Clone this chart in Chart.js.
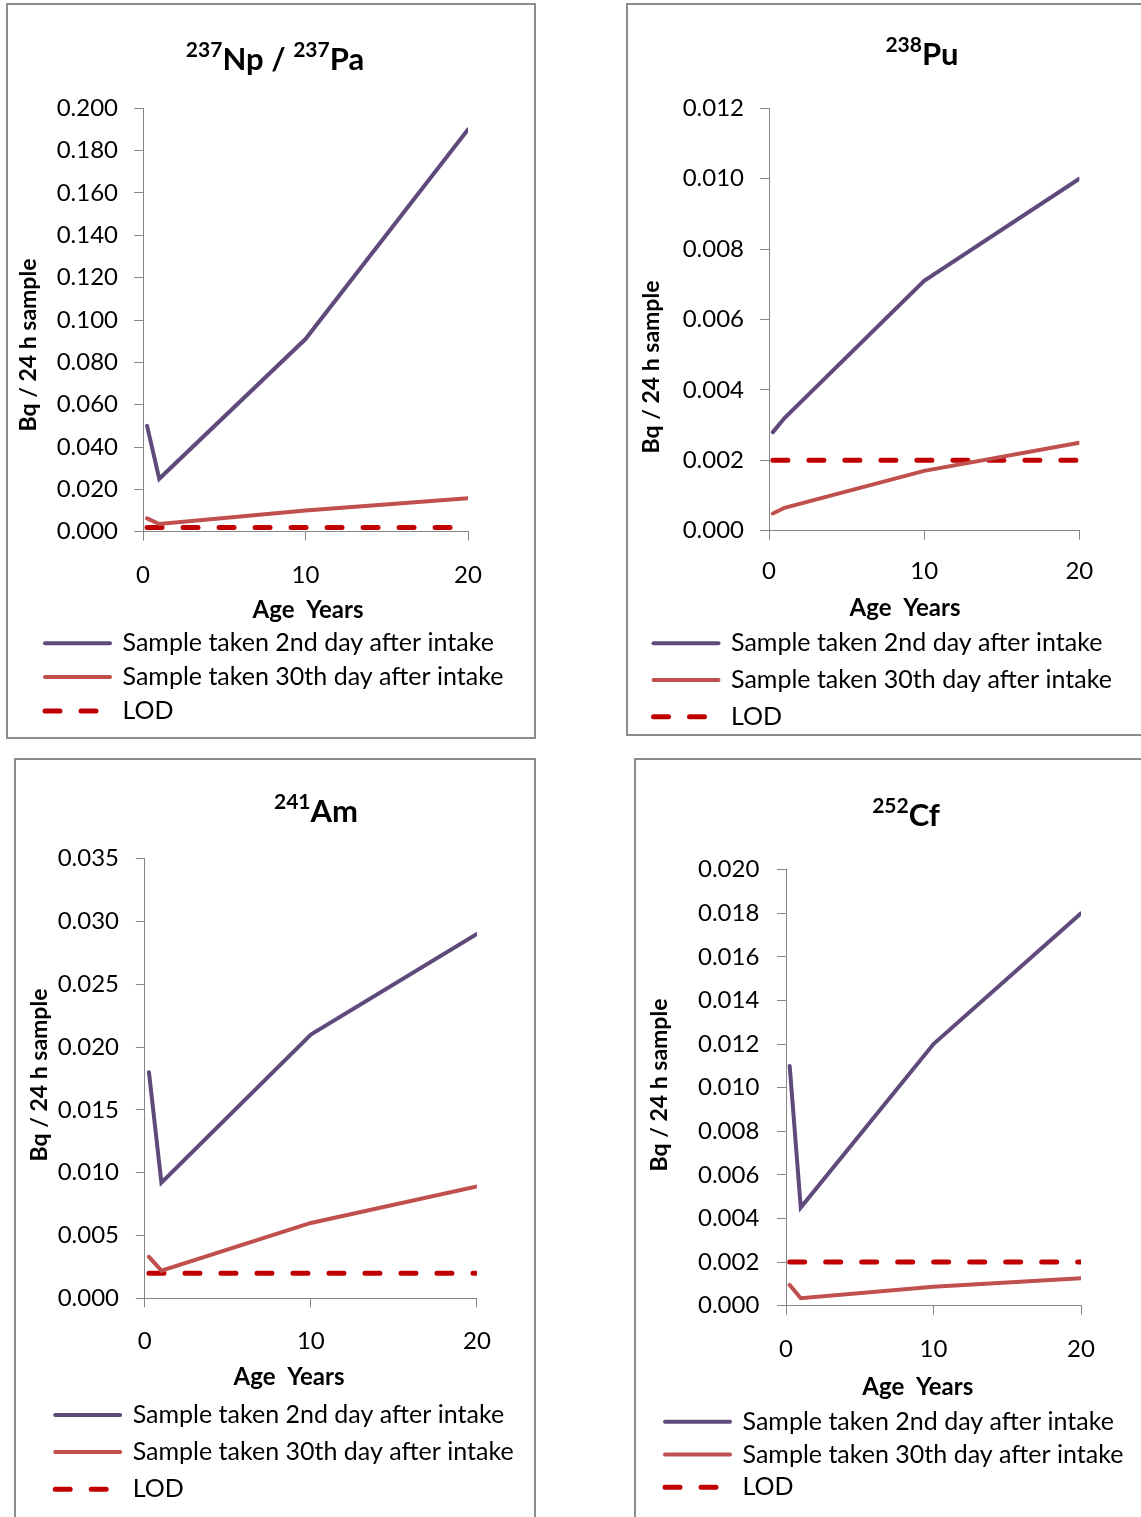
<!DOCTYPE html>
<html>
<head>
<meta charset="utf-8">
<title>Urine excretion by age</title>
<script src="https://cdn.jsdelivr.net/npm/chart.js@4.4.1/dist/chart.umd.min.js"></script>
<style>
  html, body { margin: 0; padding: 0; background: #fff; overflow: hidden; }
  body { width: 1141px; height: 1517px; position: relative; }
  .panel { position: absolute; border: 2px solid #8c8c8c; box-sizing: border-box; background: #fff; }
  .panel canvas { display: block; }
</style>
</head>
<body>
<div class="panel" style="left:6px;top:3px;width:530px;height:736px"><canvas id="c1" width="526" height="732"></canvas></div>
<div class="panel" style="left:626px;top:3px;width:530px;height:733px"><canvas id="c2" width="526" height="729"></canvas></div>
<div class="panel" style="left:14px;top:758px;width:522px;height:800px"><canvas id="c3" width="518" height="796"></canvas></div>
<div class="panel" style="left:634px;top:758px;width:530px;height:800px"><canvas id="c4" width="526" height="796"></canvas></div>
<script>
// ages at which the samples were modelled (years)
const ageYears = [0.25, 1, 10, 20];
const xTicks = [0, 10, 20];
const seriesNames = ['Sample taken 2nd day after intake', 'Sample taken 30th day after intake', 'LOD'];

// Bq / 24 h sample
const npDay2  = [0.050, 0.025, 0.091, 0.190];
const npDay30 = [0.0063, 0.0036, 0.010, 0.0158];
const npLod   = [0.002, 0.002, 0.002, 0.002];

const puDay2  = [0.0028, 0.0032, 0.0071, 0.0100];
const puDay30 = [0.00049, 0.00065, 0.0017, 0.0025];
const puLod   = [0.002, 0.002, 0.002, 0.002];

const amDay2  = [0.018, 0.0092, 0.021, 0.029];
const amDay30 = [0.0033, 0.0022, 0.006, 0.0089];
const amLod   = [0.002, 0.002, 0.002, 0.002];

const cfDay2  = [0.011, 0.0045, 0.012, 0.018];
const cfDay30 = [0.00095, 0.00034, 0.00087, 0.00126];
const cfLod   = [0.002, 0.002, 0.002, 0.002];

const yAxisMax  = [0.200, 0.012, 0.035, 0.020];
const yAxisStep = [0.020, 0.002, 0.005, 0.002];

// [text, isSuperscript]
const isotopeTitles = [
  [['237', true], ['Np / ', false], ['237', true], ['Pa', false]],
  [['238', true], ['Pu', false]],
  [['241', true], ['Am', false]],
  [['252', true], ['Cf', false]]
];
const yAxisTitle = 'Bq / 24 h sample';
const xAxisTitle = 'Age  Years';

const panelSeries = [
  [npDay2, npDay30, npLod],
  [puDay2, puDay30, puLod],
  [amDay2, amDay30, amLod],
  [cfDay2, cfDay30, cfLod]
];

// page-pixel layout of each panel (canvas origin, plot box, text anchors)
const frames = [
  { id: 'c1', ox: 8, oy: 5, plot: [143, 108.3, 468, 531.7], tickRight: 118, tickY: 575,
    title: [275, 70], yTitle: [29, 345], xTitle: [308, 610], legend: [45, 643.3, 33.8] },
  { id: 'c2', ox: 628, oy: 5, plot: [769, 108.3, 1079.3, 530.7], tickRight: 744, tickY: 571.7,
    title: [922, 65], yTitle: [652, 367], xTitle: [905, 608.3], legend: [653.5, 643.3, 36.7] },
  { id: 'c3', ox: 16, oy: 760, plot: [144.8, 858.7, 476.9, 1298.3], tickRight: 119, tickY: 1341.7,
    title: [316, 822], yTitle: [40, 1075], xTitle: [289, 1377.3], legend: [55.2, 1415, 37.1] },
  { id: 'c4', ox: 636, oy: 760, plot: [786, 869.7, 1081, 1305.7], tickRight: 759.3, tickY: 1349.3,
    title: [906, 826], yTitle: [660, 1085], xTitle: [917.8, 1387.3], legend: [665, 1421.7, 32.8] }
];

const FONT = 'Lato, "Open Sans", sans-serif';
const TICK_SIZE = 24;
const LEGEND_SIZE = 25;
const TICK_LEN = 9;
const AXIS_GREY = '#868686';
const colors = { day2: '#604A7B', day30: '#C0504D', lod: '#C00000' };

Chart.defaults.color = '#000';
Chart.defaults.font.family = FONT;

const panelText = {
  id: 'panelText',
  afterDraw(chart, args, o) {
    const ctx = chart.ctx;
    ctx.save();
    ctx.fillStyle = '#000';

    // isotope title with superscript mass numbers
    const mainFont = 'bold 31px ' + FONT;
    const supFont = 'bold 21px ' + FONT;
    let total = 0;
    o.title.forEach(p => {
      ctx.font = p[1] ? supFont : mainFont;
      total += ctx.measureText(p[0]).width;
    });
    let x = o.titleAt[0] - total / 2;
    ctx.textAlign = 'left';
    ctx.textBaseline = 'alphabetic';
    o.title.forEach(p => {
      ctx.font = p[1] ? supFont : mainFont;
      ctx.fillText(p[0], x, p[1] ? o.titleAt[1] - 13 : o.titleAt[1]);
      x += ctx.measureText(p[0]).width;
    });

    // axis titles
    ctx.font = 'bold 24px ' + FONT;
    ctx.textAlign = 'center';
    ctx.textBaseline = 'middle';
    ctx.fillText(xAxisTitle, o.xTitleAt[0], o.xTitleAt[1]);
    ctx.font = 'bold 23px ' + FONT;
    ctx.translate(o.yTitleAt[0], o.yTitleAt[1]);
    ctx.rotate(-Math.PI / 2);
    ctx.fillText(yAxisTitle, 0, 0);
    ctx.restore();
  }
};

function toPoints(values) {
  return values.map((v, i) => ({ x: ageYears[i], y: v }));
}

function legendLabels(chart) {
  return Chart.defaults.plugins.legend.labels.generateLabels(chart).map(item => {
    const ds = chart.data.datasets[item.datasetIndex];
    item.lineDash = ds.borderDash || [];
    item.lineWidth = ds.borderWidth;
    item.lineCap = 'round';
    item.strokeStyle = ds.borderColor;
    item.pointStyle = 'line';
    return item;
  });
}

function buildChart(i) {
  const f = frames[i];
  const canvas = document.getElementById(f.id);
  const W = canvas.width, H = canvas.height;
  const L = f.plot[0] - f.ox, T = f.plot[1] - f.oy, R = f.plot[2] - f.ox, B = f.plot[3] - f.oy;

  const gap = f.legend[2];
  const legendPad = gap - LEGEND_SIZE;
  const legendTop = f.legend[1] - f.oy - legendPad - LEGEND_SIZE / 2;
  const legendH = 3 * gap + 10;
  const padL = f.legend[0] - f.ox - legendPad;
  const padB = H - legendTop - legendH;
  const yWidth = L - padL;
  const xHeight = legendTop - B;
  const yTickPad = L - TICK_LEN - (f.tickRight - f.ox);
  const xTickPad = (f.tickY - f.oy) - B - TICK_LEN - TICK_SIZE * 1.2 / 2;

  const [day2, day30, lod] = panelSeries[i];

  new Chart(canvas, {
    type: 'line',
    data: {
      datasets: [
        { label: seriesNames[0], data: toPoints(day2), borderColor: colors.day2, backgroundColor: colors.day2,
          borderWidth: 4, borderCapStyle: 'round' },
        { label: seriesNames[1], data: toPoints(day30), borderColor: colors.day30, backgroundColor: colors.day30,
          borderWidth: 4, borderCapStyle: 'round' },
        { label: seriesNames[2], data: toPoints(lod), borderColor: colors.lod, backgroundColor: colors.lod,
          borderWidth: 5, borderDash: [15, 21], borderCapStyle: 'round' }
      ]
    },
    options: {
      responsive: false,
      animation: false,
      events: [],
      elements: { point: { radius: 0 }, line: { tension: 0 } },
      // right margin comes from the x scale so the legend keeps the full width
      layout: { padding: { left: padL, top: T, right: 0, bottom: padB } },
      scales: {
        x: {
          type: 'linear', min: 0, max: 20,
          afterBuildTicks: s => { s.ticks = xTicks.map(v => ({ value: v })); },
          afterFit: s => { s.height = xHeight; s.paddingRight = W - R; },
          grid: { drawOnChartArea: false, tickLength: TICK_LEN, color: AXIS_GREY },
          border: { color: AXIS_GREY },
          ticks: { padding: xTickPad, maxRotation: 0, font: { size: TICK_SIZE } }
        },
        y: {
          min: 0, max: yAxisMax[i],
          afterFit: s => { s.width = yWidth; },
          grid: { drawOnChartArea: false, tickLength: TICK_LEN, color: AXIS_GREY },
          border: { color: AXIS_GREY },
          ticks: { stepSize: yAxisStep[i], padding: yTickPad, font: { size: TICK_SIZE },
                   callback: v => v.toFixed(3) }
        }
      },
      plugins: {
        tooltip: { enabled: false },
        legend: {
          position: 'bottom', align: 'start',
          labels: { usePointStyle: true, pointStyle: 'line', pointStyleWidth: 65,
                    padding: legendPad, font: { size: LEGEND_SIZE }, color: '#000',
                    generateLabels: legendLabels }
        },
        panelText: {
          title: isotopeTitles[i],
          titleAt: [f.title[0] - f.ox, f.title[1] - f.oy],
          xTitleAt: [f.xTitle[0] - f.ox, f.xTitle[1] - f.oy],
          yTitleAt: [f.yTitle[0] - f.ox, f.yTitle[1] - f.oy]
        }
      }
    },
    plugins: [panelText]
  });
}

frames.forEach((f, i) => buildChart(i));
</script>
</body>
</html>
